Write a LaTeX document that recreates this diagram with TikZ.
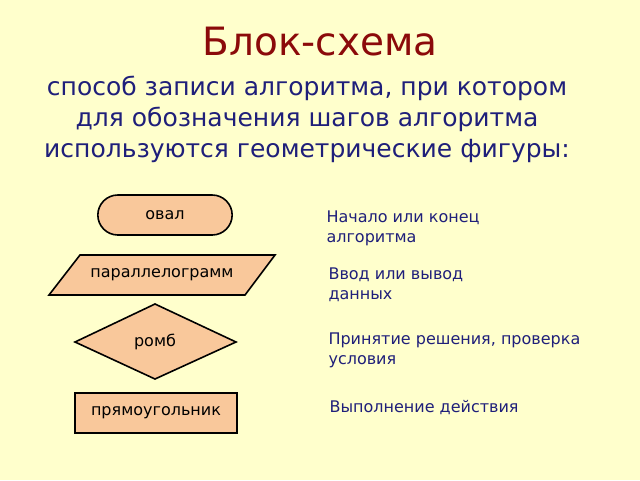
\documentclass[tikz,border=0pt]{standalone}
\usepackage{fontspec}
\setmainfont{DejaVu Sans}
\usetikzlibrary{shapes.geometric,shapes.misc}
\definecolor{bg}{HTML}{FFFFCC}
\definecolor{peach}{HTML}{F9C89B}
\definecolor{titlered}{HTML}{8B0A0A}
\definecolor{navy}{HTML}{1F1F7A}
\tikzset{
  shapebox/.style={draw=black, line width=1.6pt, fill=peach, font=\fontsize{16}{18}\selectfont, text=black},
  shapetext/.style={font=\fontsize{16}{18}\selectfont, text=black},
  desc/.style={anchor=west, align=left, text=navy, font=\fontsize{16}{20}\selectfont},
}
\begin{document}
\begin{tikzpicture}[x=1pt,y=-1pt]
\useasboundingbox (0,0) rectangle (640,480);
\fill[bg] (0,0) rectangle (640,480);
\node[text=titlered, font=\fontsize{39}{44}\selectfont] (title) at (320,42) {Блок-схема};
\node[text=navy, align=center, font=\fontsize{25}{31}\selectfont] (sub) at (307,119) {способ записи алгоритма, при котором\\для обозначения шагов алгоритма\\используются геометрические фигуры:};
% shapes
\node[shapebox, rounded rectangle, minimum width=141pt, minimum height=40pt] (oval) at (165,215) {овал};
\draw[shapebox] (80,255) -- (275,255) -- (245,295) -- (49,295) -- cycle;
\node[shapetext] (par) at (162,275) {параллелограмм};
\draw[shapebox] (75,342) -- (155,304) -- (236,342) -- (155,379) -- cycle;
\node[shapetext] (romb) at (155,342) {ромб};
\node[shapebox, rectangle, minimum width=162pt, minimum height=40pt] (rect) at (156,413) {прямоугольник};
% descriptions
\node[desc] (d1) at (323,228) {Начало или конец\\алгоритма};
\node[desc] (d2) at (325,285) {Ввод или вывод\\данных};
\node[desc] (d3) at (325,350) {Принятие решения, проверка\\условия};
\node[desc] (d4) at (326,408) {Выполнение действия};
\end{tikzpicture}
\end{document}
